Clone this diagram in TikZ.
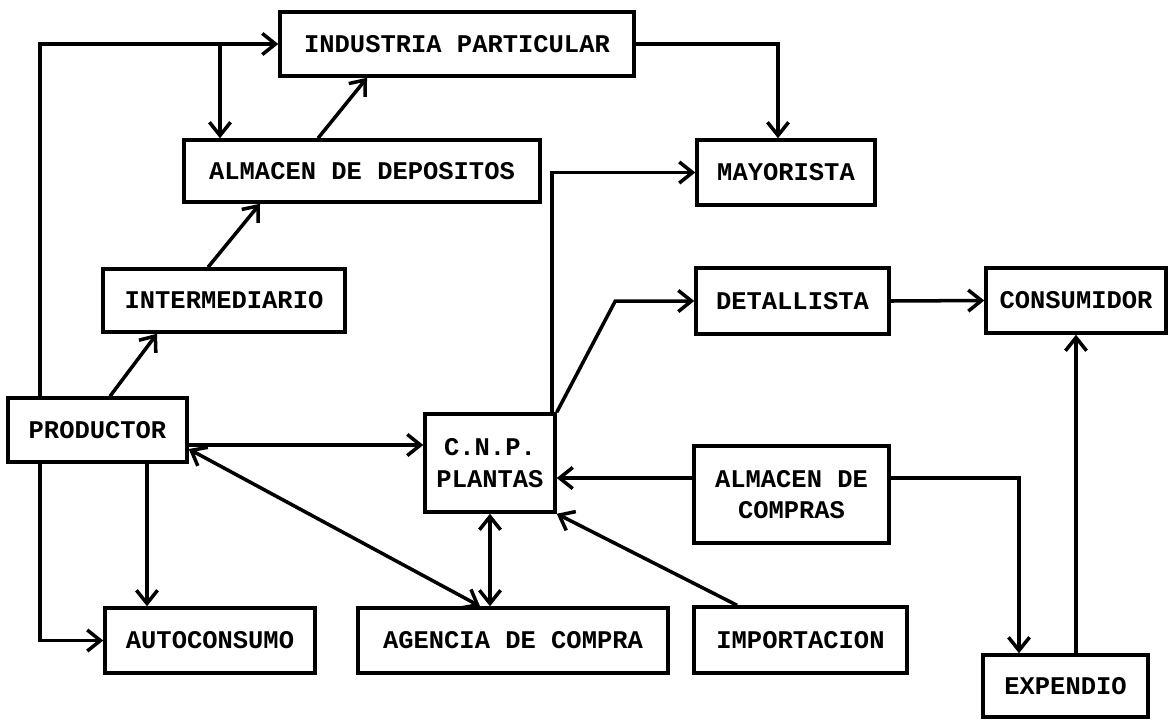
\documentclass[tikz,border=0pt]{standalone}
\usepackage{fontspec}
\setmonofont{Liberation Mono}
\usepackage {tikz}
\usetikzlibrary {positioning}
\usetikzlibrary{arrows.meta}
\tikzset{
    stage/.style = {rectangle,draw,line width=2pt,inner sep=0pt,align=center,
        font=\ttfamily\bfseries\fontsize{14.5}{18}\selectfont},
    flow/.style = {line width=2pt,-{Straight Barb[length=7.5pt,width=12pt]}},
    twoway/.style = {line width=2pt,{Straight Barb[length=7.5pt,width=12pt]}-{Straight Barb[length=7.5pt,width=12pt]}}}
\begin{document}
\begin{tikzpicture}[x=0.02cm,y=-0.02cm]
    \useasboundingbox (0,0) rectangle (1172,721);
    \path (457,44) node[stage,minimum width=7.08cm,minimum height=1.28cm] (indus) {INDUSTRIA PARTICULAR}
        (362,171) node[stage,minimum width=7.12cm,minimum height=1.24cm] (almdep) {ALMACEN DE DEPOSITOS}
        (786,172.5) node[stage,minimum width=3.56cm,minimum height=1.3cm] (mayor) {MAYORISTA}
        (224,300.5) node[stage,minimum width=4.84cm,minimum height=1.26cm] (interm) {INTERMEDIARIO}
        (792.5,301) node[stage,minimum width=3.86cm,minimum height=1.32cm] (detall) {DETALLISTA}
        (1076,300.5) node[stage,minimum width=3.6cm,minimum height=1.3cm] (consum) {CONSUMIDOR}
        (97.5,430) node[stage,minimum width=3.58cm,minimum height=1.28cm] (produc) {PRODUCTOR}
        (490,463) node[stage,minimum width=2.6cm,minimum height=1.96cm] (cnp) {C.N.P.\\PLANTAS}
        (791.5,494.5) node[stage,minimum width=3.9cm,minimum height=1.94cm] (almcom) {ALMACEN DE\\COMPRAS}
        (210,640.5) node[stage,minimum width=4.2cm,minimum height=1.3cm] (autoc) {AUTOCONSUMO}
        (513,640.5) node[stage,minimum width=6.2cm,minimum height=1.3cm] (agencia) {AGENCIA DE COMPRA}
        (800.5,640) node[stage,minimum width=4.26cm,minimum height=1.32cm] (import) {IMPORTACION}
        (1065.5,686) node[stage,minimum width=3.3cm,minimum height=1.24cm] (expend) {EXPENDIO};
    \coordinate (split) at (220,44);
    \draw[flow] ([xshift=-1.15cm]produc.north) |- (indus.west);
    \draw[flow] (split) -- (split |- almdep.north);
    \draw[flow] ([xshift=-0.88cm]almdep.north) -- ([xshift=-1.8cm]indus.south);
    \draw[flow] ([xshift=-0.32cm]interm.north) -- ([xshift=-2.04cm]almdep.south);
    \draw[flow] ([xshift=0.25cm]produc.north) -- ([xshift=-1.34cm]interm.south);
    \draw[flow] (indus.east) -| ([xshift=-0.16cm]mayor.north);
    \draw[flow] ([xshift=-0.1cm]cnp.north east) |- (mayor.west);
    \draw[flow] (cnp.north east) -- ([xshift=-1.58cm]detall.west) -- (detall.west);
    \draw[flow] (detall.east) -- (consum.west);
    \draw[flow] (expend.north -| consum.south) -- (consum.south);
    \draw[flow] ([yshift=0.33cm]almcom.east) -| ([xshift=-0.93cm]expend.north);
    \draw[flow] ([yshift=0.33cm]almcom.west) -- ([yshift=0.33cm]almcom.west -| cnp.east);
    \draw[flow] ([xshift=-1.27cm]import.north) -- (cnp.south east);
    \draw[twoway] (cnp.south) -- (cnp.south |- agencia.north);
    \draw[twoway] ([yshift=-0.38cm]produc.east) -- ([xshift=-0.66cm]agencia.north);
    \draw[flow] ([yshift=-0.3cm]produc.east) -- ([yshift=-0.3cm]produc.east -| cnp.west);
    \draw[flow] ([xshift=0.99cm]produc.south) -- ([xshift=0.99cm]produc.south |- autoc.north);
    \draw[flow] ([xshift=-1.15cm]produc.south) |- (autoc.west);
\end{tikzpicture}
\end{document}
